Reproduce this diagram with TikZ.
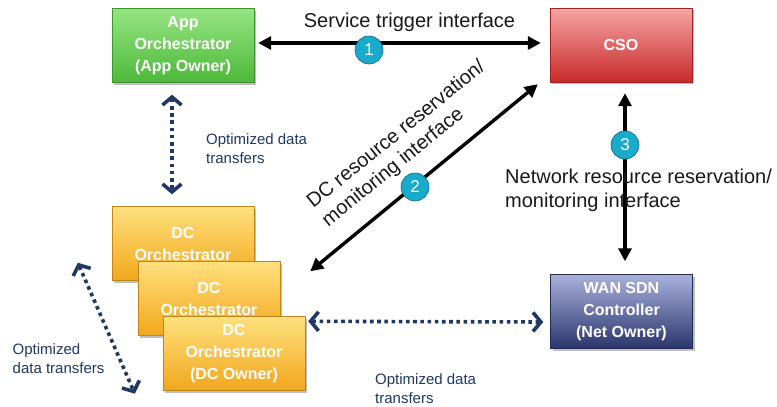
\documentclass[tikz,border=0pt]{standalone}
\usepackage{fontspec}
\setmainfont{Liberation Sans}
\usetikzlibrary{arrows.meta,shadows,calc}

\definecolor{appTop}{HTML}{96E482}
\definecolor{appBot}{HTML}{4DB93A}
\definecolor{csoTop}{HTML}{F6A4A4}
\definecolor{csoBot}{HTML}{C92A2A}
\definecolor{dcTop}{HTML}{FFE07E}
\definecolor{dcBot}{HTML}{F2A71C}
\definecolor{wanTop}{HTML}{A9B1DA}
\definecolor{wanBot}{HTML}{2A356E}
\definecolor{navy}{HTML}{1F3864}
\definecolor{badge}{HTML}{1AAACB}
\definecolor{badgeRim}{HTML}{0F6A82}

\tikzset{
  orch/.style={minimum width=142pt, minimum height=74pt, inner sep=0pt,
    draw=#1Bot!80!black, line width=0.4pt,
    top color=#1Top, bottom color=#1Bot,
    drop shadow={shadow xshift=2pt, shadow yshift=-2pt, opacity=.25, fill=black}},
  boxtext/.style={align=center, text=white, inner sep=0pt,
    font=\bfseries\fontsize{16}{22}\selectfont},
  iface/.style={line width=3.4pt, black,
    {Triangle[length=13pt,width=13pt]}-{Triangle[length=13pt,width=13pt]}},
  transfer/.style={line width=3.6pt, navy, dash pattern=on 3.6pt off 3.6pt,
    {Straight Barb[length=8pt,width=19pt,line width=3.6pt]}-{Straight Barb[length=8pt,width=19pt,line width=3.6pt]}},
  numbadge/.style={circle, minimum size=28pt, inner sep=0pt, fill=badge,
    draw=badgeRim, line width=0.6pt, text=white,
    font=\fontsize{17}{17}\selectfont},
  bigtext/.style={inner sep=0pt, align=left, text=black!90,
    font=\fontsize{20}{23.5}\selectfont},
  smalltext/.style={inner sep=0pt, align=left, text=navy,
    font=\fontsize{15}{19}\selectfont},
}

% gradient box with its white bold caption
\newcommand\orchbox[5]{%
  \node[orch=#4] (#1) at (#2,#3) {};
  \node[boxtext] (#1-text) at (#1.center) {#5};
}

\begin{document}
\begin{tikzpicture}[x=1pt, y=-1pt]
\useasboundingbox[fill=white] (0,0) rectangle (777,407);

% ---- orchestrators and controllers
\orchbox{app}{183}{45.5}{app}{App\\Orchestrator\\(App Owner)}
\orchbox{cso}{621}{45}{cso}{CSO}
\orchbox{dcA}{183}{243.5}{dc}{DC\\Orchestrator}
\orchbox{dcB}{209}{298.5}{dc}{DC\\Orchestrator}
\orchbox{dcC}{234}{353.5}{dc}{DC\\Orchestrator\\(DC Owner)}
\orchbox{wan}{621.5}{311.5}{wan}{WAN SDN\\Controller\\(Net Owner)}

% ---- control interfaces
\draw[iface] ([shift={(4pt,2.5pt)}]app.east) -- ([shift={(-9pt,2pt)}]cso.west);
\draw[iface] ([shift={(30pt,-10pt)}]dcB.north east) -- ([shift={(-12pt,-2pt)}]cso.south west);
\draw[iface] ([shift={(4pt,-11pt)}]cso.south) -- ([shift={(3.5pt,13pt)}]wan.north);

\node[numbadge] (n1) at (369,50) {1};
\node[numbadge] (n2) at (415,187) {2};
\node[numbadge] (n3) at (625,145) {3};

% ---- data transfers
\draw[transfer] ([shift={(-11pt,-12pt)}]app.south) -- ([shift={(-11pt,12pt)}]dcA.north);
\draw[transfer] ([shift={(-34pt,18pt)}]dcA.south west) -- ([shift={(-28pt,-3pt)}]dcC.south west);
\draw[transfer] ([shift={(3pt,-5pt)}]dcC.north east) -- ([shift={(-7pt,-10.5pt)}]wan.west);

% ---- labels
\node[bigtext, anchor=base] (l1) at (409.5,27) {Service trigger interface};
\node[bigtext, rotate=39] (l2) at (404,144) {DC resource reservation/\\monitoring interface};
\node[bigtext, anchor=west] (l3) at (505,190.4) {Network resource reservation/\\monitoring interface};
\node[smalltext, anchor=west] (t1) at (206,148.6) {Optimized data\\transfers};
\node[smalltext, anchor=west] (t2) at (12.5,358.6) {Optimized\\data transfers};
\node[smalltext, anchor=west] (t3) at (375,388.6) {Optimized data\\transfers};
\end{tikzpicture}
\end{document}
